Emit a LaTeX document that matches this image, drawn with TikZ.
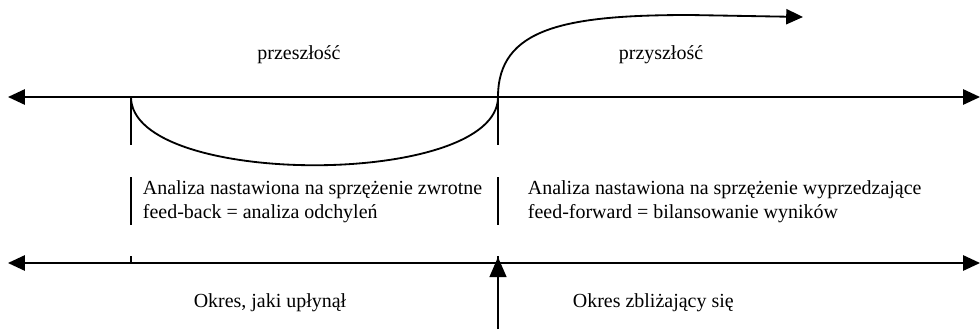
\documentclass[tikz,border=0pt]{standalone}
\usepackage{fontspec}
\setmainfont{Liberation Serif}
\usetikzlibrary{arrows.meta}

\begin{document}
\begin{tikzpicture}[x=0.025cm,y=-0.025cm,line width=1.3pt,
	>={Triangle[length=0.42cm,width=0.38cm]},
	t/.style={font=\fontsize{14.2}{17}\selectfont, inner sep=0pt, align=left}]
				\useasboundingbox (0,0) rectangle (980,329);
				% axes
				\coordinate (l1) at (8,97);
				\coordinate (r1) at (980,97);
				\coordinate (l2) at (8,263);
				\coordinate (r2) at (980,263);
				\draw[<->] (l1) -- (r1);
				\draw[<->] (l2) -- (r2);
				
				% marks
				\coordinate (p) at (131,97);
				\coordinate (n) at (498,97);
				\draw (p) -- (131,145);
				\draw (n) -- (498,145);
				\draw (131,177) -- (131,225);
				\draw (498,177) -- (498,225);
				\draw (131,256) -- (131,263);
				\draw (498,256) -- (498,263);
				
				% curves
				\coordinate (f) at (690,15);
				\coordinate (e) at (803,17);
				\draw (p) .. controls (131,188) and (498,188) .. (n);
				\draw[->] (n) .. controls (498,28) and (565,15) .. (f) -- (e);
				
				\coordinate (b) at (498,329);
				\coordinate (nt) at (498,257);
				\draw[-{Triangle[length=0.5cm,width=0.42cm]}] (b) -- (nt);
				
				\node[t] (past) at (299,55) {przeszłość};
				\node[t] (future) at (661,55) {przyszłość};
				\node[t,anchor=west] (fb) at (142,202) {Analiza nastawiona na sprzężenie zwrotne\\feed-back = analiza odchyleń};
				\node[t,anchor=west] (ff) at (527,202) {Analiza nastawiona na sprzężenie wyprzedzające\\feed-forward = bilansowanie wyników};
				\node[t] (gone) at (270,303) {Okres, jaki upłynął};
				\node[t,anchor=west] (coming) at (572,303) {Okres zbliżający się};
\end{tikzpicture}
\end{document}
